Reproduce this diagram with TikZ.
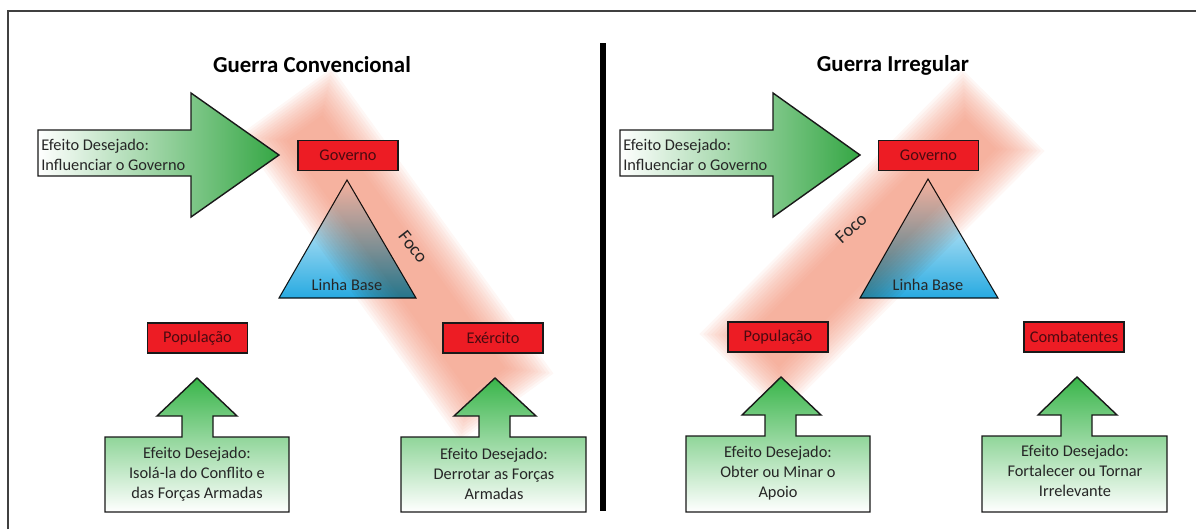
\documentclass[tikz,border=0pt]{standalone}
\usepackage{fontspec}
\setmainfont{Carlito}
\usepackage{tikz}

\definecolor{boxred}{HTML}{ED1C24}
\definecolor{effgreen}{HTML}{39B54A}
\definecolor{baseblue}{HTML}{27AAE1}
\definecolor{focopink}{RGB}{240,130,100}
\definecolor{govtext}{HTML}{4A0A10}

\begin{document}
\begin{tikzpicture}[x=0.02cm,y=-0.02cm,
	redbox/.style={draw=black!90,line width=0.7pt,fill=boxred,minimum width=2cm,minimum height=0.6cm,inner sep=0pt,text=govtext,font=\fontsize{9.3}{11.3}\selectfont},
	bigarrow/.style={draw=black!90,line width=0.8pt,left color=white,middle color=effgreen!40,right color=effgreen!92!black},
	upbox/.style={draw=black!90,line width=0.8pt,top color=effgreen,bottom color=white},
	basetri/.style={draw=black!90,line width=0.6pt,top color=white,middle color=white,bottom color=baseblue},
	efftext/.style={inner sep=0pt,text=black!85,font=\fontsize{9.3}{11.4}\selectfont},
	titletext/.style={font=\fontsize{13}{15}\selectfont\bfseries},
	focotext/.style={text=black!85,font=\fontsize{10.5}{12}\selectfont}]
			\useasboundingbox (0,0) rectangle (1196,529);
			%\draw [help lines] (0,0) grid (1196,529);
			% foco bands
			\coordinate (focoLa) at (295,115);
			\coordinate (focoLb) at (497,394);
			\coordinate (focoRa) at (992,122);
			\coordinate (focoRb) at (752,363);
			\foreach \k in {0,...,13}{
				\pgfmathsetmacro\bw{(44+5.5*\k)*0.02}
				\pgfmathsetmacro\bs{(16-2.5*\k)*0.02}
				\draw[focopink,opacity=0.065,line width=\bw cm,shorten <=\bs cm,shorten >=\bs cm] (focoLa) -- (focoLb);
				\draw[focopink,opacity=0.065,line width=\bw cm,shorten <=\bs cm,shorten >=\bs cm] (focoRa) -- (focoRb);
			}
			% frame and divider
			\draw[black!75,line width=0.04cm] (8,529) -- (8,11) -- (1196,11);
			\draw[line width=0.12cm] (603,43) -- (603,511);
			% effect arrows
			\draw[bigarrow] (38,130) -- (191,130) -- (191,93) -- (279,155) -- (191,217) -- (191,176) -- (38,176) -- cycle;
			\draw[bigarrow] (620,130) -- (773,130) -- (773,93) -- (860,155) -- (773,217) -- (773,176) -- (620,176) -- cycle;
			\draw[upbox] (197,378) -- (237,416) -- (213,416) -- (213,437) -- (289,437) -- (289,512) -- (105,512) -- (105,437) -- (182,437) -- (182,416) -- (157,416) -- cycle;
			\draw[upbox] (495,378) -- (536,416) -- (510,416) -- (510,437) -- (586,437) -- (586,512) -- (401,512) -- (401,437) -- (479,437) -- (479,416) -- (454,416) -- cycle;
			\draw[upbox] (781,377) -- (821,415) -- (796,415) -- (796,436) -- (870,436) -- (870,512) -- (686,512) -- (686,436) -- (765,436) -- (765,415) -- (742,415) -- cycle;
			\draw[upbox] (1077,377) -- (1117,415) -- (1092,415) -- (1092,436) -- (1167,436) -- (1167,512) -- (982,512) -- (982,436) -- (1061,436) -- (1061,415) -- (1038,415) -- cycle;
			% triangles
			\begin{scope}[blend mode=multiply]
			\draw[basetri] (347,180) -- (416,298) -- (279,298) -- cycle;
			\draw[basetri] (928,179) -- (998,298) -- (860,298) -- cycle;
			\end{scope}
			% titles
			\node[titletext] (titleL) at (312,65) {Guerra Convencional};
			\node[titletext] (titleR) at (893,65) {Guerra Irregular};
			% red boxes
			\node[redbox] (govL) at (348,155.5) {Governo};
			\node[redbox] (popL) at (197.5,338) {População};
			\node[redbox] (exeL) at (493,338) {Exército};
			\node[redbox] (govR) at (928.5,155.5) {Governo};
			\node[redbox] (popR) at (778,337) {População};
			\node[redbox] (comR) at (1074,337) {Combatentes};
			% texts
			\node[efftext,anchor=west,align=left] (infL) at (41,155) {Efeito Desejado:\\Influenciar o Governo};
			\node[efftext,anchor=west,align=left] (infR) at (623,155) {Efeito Desejado:\\Influenciar o Governo};
			\node[efftext] (baseL) at (347,285) {Linha Base};
			\node[efftext] (baseR) at (928,285) {Linha Base};
			\node[efftext,align=center] (effL1) at (197,474) {Efeito Desejado:\\Isolá-la do Conflito e\\das Forças Armadas};
			\node[efftext,align=center] (effL2) at (494,474) {Efeito Desejado:\\Derrotar as Forças\\Armadas};
			\node[efftext,align=center] (effR1) at (778,473) {Efeito Desejado:\\Obter ou Minar o\\Apoio};
			\node[efftext,align=center] (effR2) at (1075,471) {Efeito Desejado:\\Fortalecer ou Tornar\\Irrelevante};
			\node[focotext,rotate=-52] (focoL) at (413,247) {Foco};
			\node[focotext,rotate=42] (focoR) at (851,228) {Foco};
		\end{tikzpicture}
\end{document}
